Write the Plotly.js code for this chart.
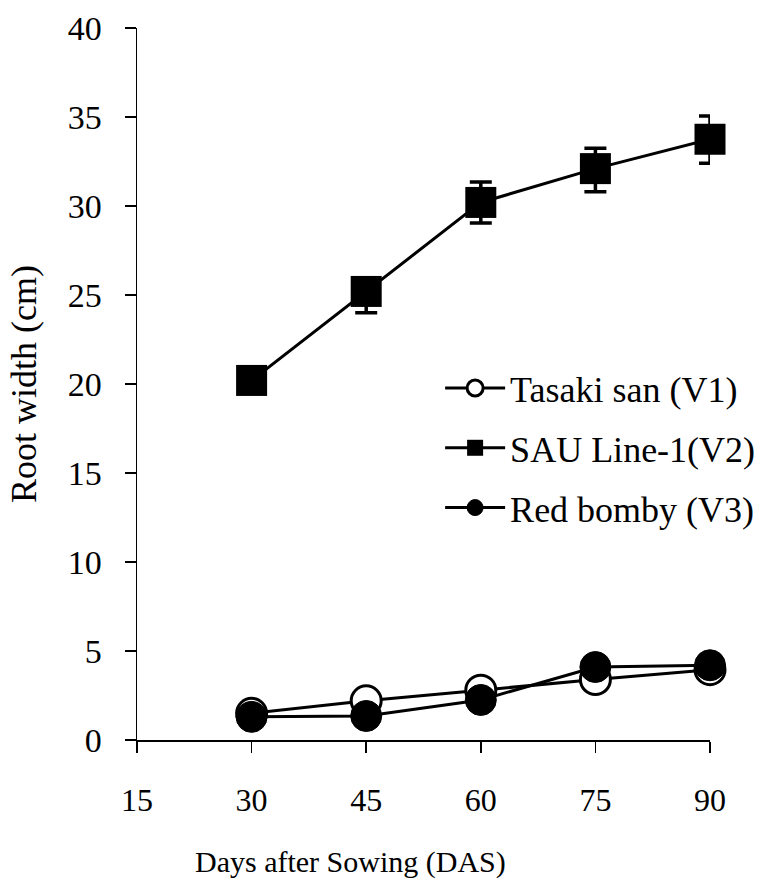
<!DOCTYPE html>
<html>
<head>
<meta charset="utf-8">
<script src="https://cdn.plot.ly/plotly-3.0.1.min.js"></script>
<style>
  html, body { margin: 0; padding: 0; background: #ffffff; }
  #chart { width: 767px; height: 892px; }
</style>
</head>
<body>
<div id="chart"></div>
<script>
// Days after sowing
const days = [30, 45, 60, 75, 90];
const seriesNames = ["Tasaki san (V1)", "SAU Line-1(V2)", "Red bomby (V3)"];
// Root width (cm)
const tasakiSan = [1.5, 2.2, 2.8, 3.4, 3.95];
const sauLine1 = [20.2, 25.2, 30.2, 32.1, 33.75];
const sauErrPlus = [0.5, 0.6, 1.15, 1.15, 1.3];
const sauErrMinus = [0.5, 1.2, 1.15, 1.3, 1.35];
const redBomby = [1.3, 1.35, 2.25, 4.1, 4.2];
const xTicks = [15, 30, 45, 60, 75, 90];
const yTicks = [0, 5, 10, 15, 20, 25, 30, 35, 40];
const xTitle = "Days after Sowing (DAS)";
const yTitle = "Root width (cm)";

const FONT = "'Liberation Serif', 'Times New Roman', serif";

const traces = [
  {
    x: days, y: tasakiSan, name: seriesNames[0], type: "scatter", mode: "lines+markers",
    legendgroup: "a",
    line: { color: "#000", width: 3 },
    marker: { symbol: "circle", size: 30, color: "#fff", line: { color: "#000", width: 3 } },
    cliponaxis: false
  },
  {
    x: days, y: sauLine1, name: seriesNames[1], type: "scatter", mode: "lines+markers",
    legendgroup: "b",
    line: { color: "#000", width: 3 },
    marker: { symbol: "square", size: 31, color: "#000", line: { color: "#000", width: 0 } },
    error_y: { type: "data", symmetric: false, array: sauErrPlus, arrayminus: sauErrMinus,
               color: "#000", thickness: 3.5, width: 11 },
    cliponaxis: false
  },
  {
    x: days, y: redBomby, name: seriesNames[2], type: "scatter", mode: "lines+markers",
    legendgroup: "c",
    line: { color: "#000", width: 3 },
    marker: { symbol: "circle", size: 31, color: "#000", line: { color: "#000", width: 1 } },
    cliponaxis: false
  }
];

const layout = {
  width: 767, height: 892,
  paper_bgcolor: "#fff", plot_bgcolor: "#fff",
  margin: { l: 137, r: 57, t: 28, b: 152, autoexpand: false },
  font: { family: FONT, color: "#000", size: 32 },
  showlegend: true,
  legend: {
    x: 0.529, xanchor: "left", y: 0.41, yanchor: "middle",
    font: { family: FONT, size: 36, color: "#000" },
    bgcolor: "rgba(0,0,0,0)", borderwidth: 0,
    traceorder: "grouped", tracegroupgap: 10,
    itemwidth: 60
  },
  xaxis: {
    range: [15, 90], tickvals: xTicks, ticktext: xTicks.map(String),
    showgrid: false, zeroline: false,
    showline: true, linecolor: "#000", linewidth: 1.5,
    ticks: "outside", ticklen: 11, tickwidth: 1.5, tickcolor: "#000",
    ticklabelstandoff: 20,
    tickfont: { family: FONT, size: 32, color: "#000" },
    fixedrange: true
  },
  yaxis: {
    range: [0, 40], tickvals: yTicks, ticktext: yTicks.map(String),
    showgrid: false, zeroline: false,
    showline: true, linecolor: "#000", linewidth: 1.5,
    ticks: "outside", ticklen: 11, tickwidth: 1.5, tickcolor: "#000",
    ticklabelstandoff: 16,
    tickfont: { family: FONT, size: 34, color: "#000" },
    title: { text: yTitle, font: { family: FONT, size: 36, color: "#000" }, standoff: 20 },
    fixedrange: true
  },
  annotations: [
    {
      text: xTitle, xref: "paper", yref: "paper",
      x: 0.372, y: -0.172, xanchor: "center", yanchor: "middle",
      showarrow: false,
      font: { family: FONT, size: 30, color: "#000" }
    }
  ]
};

Plotly.newPlot("chart", traces, layout, { displayModeBar: false, staticPlot: true });
</script>
</body>
</html>
